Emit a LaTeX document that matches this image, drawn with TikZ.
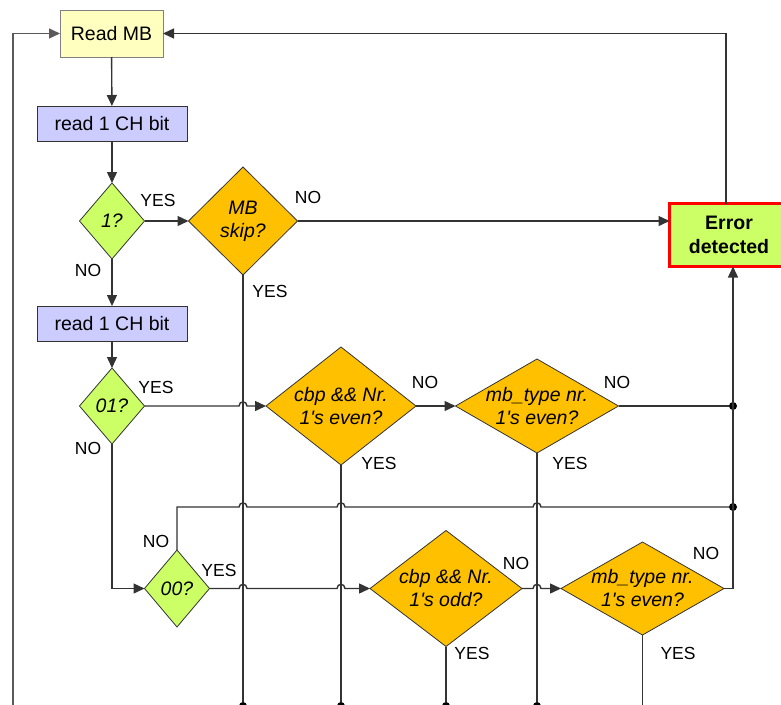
\documentclass[tikz,border=0pt]{standalone}
\usepackage{fontspec}
\setmainfont{Liberation Sans}
\usetikzlibrary{shapes.geometric,arrows.meta}
\definecolor{boxyellow}{HTML}{FFFFC0}
\definecolor{boxblue}{HTML}{CCCCFF}
\definecolor{limefill}{HTML}{CCFF66}
\definecolor{goldfill}{HTML}{FFC000}
\definecolor{wire}{HTML}{333333}
\definecolor{errred}{HTML}{FF0000}

\begin{document}
\begin{tikzpicture}[x=1pt,y=-1pt,
  every node/.style={font=\fontsize{19.5}{23}\selectfont, inner sep=0pt, outer sep=0pt},
  startbox/.style={rectangle, draw=gray, fill=boxyellow, line width=1pt,
    minimum width=103pt, minimum height=47pt},
  readbox/.style={rectangle, draw=wire, fill=boxblue, line width=1pt,
    minimum width=150pt, minimum height=35pt},
  testdia/.style={diamond, draw=wire, fill=limefill, line width=0.8pt},
  checkdia/.style={diamond, draw=wire, fill=goldfill, line width=0.8pt},
  diatext/.style={align=center, font=\fontsize{19.5}{23}\selectfont\itshape},
  errbox/.style={rectangle, draw=errred, fill=limefill, line width=3pt,
    minimum width=119pt, minimum height=63pt, align=center,
    font=\fontsize{19.5}{24}\selectfont\bfseries},
  lbl/.style={font=\fontsize{17.5}{20}\selectfont},
  wireln/.style={draw=wire, line width=1.4pt},
  arr/.style={wireln, -{Triangle[length=11pt,width=10pt]}},
  dot/.style={circle, fill=black, minimum size=8pt},
  hop/.style 2 args={insert path={-- (#1-4,#2) .. controls (#1-4,#2-5.5) and (#1+4,#2-5.5) .. (#1+4,#2)}}
]
\useasboundingbox (0,0) rectangle (781,704);

% process boxes
\node[startbox] (readmb) at (111.5,33.5) {Read MB};
\node[readbox] (read1) at (112,123.5) {read 1 CH bit};
\node[readbox] (read2) at (112,323.5) {read 1 CH bit};
\node[errbox] (err) at (729,235) {Error\\detected};

% decisions
\node[testdia, minimum width=65pt, minimum height=76pt] (d1) at (112,221) {};
\node[diatext] (d1t) at (d1) {1?};
\node[checkdia, minimum width=109pt, minimum height=108pt] (skip) at (243,221) {};
\node[diatext] (skipt) at (skip) {MB\\skip?};
\node[testdia, minimum width=65pt, minimum height=76pt] (d01) at (112,406) {};
\node[diatext] (d01t) at (d01) {01?};
\node[checkdia, minimum width=150pt, minimum height=118pt] (c1) at (341,406) {};
\node[diatext] (c1t) at (c1) {cbp \&\& Nr.\\1\textquotesingle s even?};
\node[checkdia, minimum width=163pt, minimum height=94pt] (m1) at (537,406) {};
\node[diatext] (m1t) at (m1) {mb\_type nr.\\1\textquotesingle s even?};
\node[testdia, minimum width=65pt, minimum height=77pt] (d00) at (177,588.5) {};
\node[diatext] (d00t) at (d00) {00?};
\node[checkdia, minimum width=152pt, minimum height=116pt] (c2) at (446,588.5) {};
\node[diatext] (c2t) at (c2) {cbp \&\& Nr.\\1\textquotesingle s odd?};
\node[checkdia, minimum width=163pt, minimum height=93pt] (m2) at (642.5,588.5) {};
\node[diatext] (m2t) at (m2) {mb\_type nr.\\1\textquotesingle s even?};

% junctions and open ends
\node[dot] (j1) at (733,406) {};
\node[dot] (j2) at (733,507) {};
\node[dot] (e1) at (243,706) {};
\node[dot] (e2) at (341,706) {};
\node[dot] (e3) at (446,706) {};
\node[dot] (e4) at (537,706) {};
\coordinate (e5) at (642.5,712);
\coordinate (lb) at (13,712);
\coordinate (bus) at (733,0);
\coordinate (topline) at (726,0);

% branch labels
\node[lbl] (l1) at (158,200) {YES};
\node[lbl] (l2) at (88,270) {NO};
\node[lbl] (l3) at (308,197) {NO};
\node[lbl] (l4) at (270,291) {YES};
\node[lbl] (l5) at (156,387) {YES};
\node[lbl] (l6) at (88,448) {NO};
\node[lbl] (l7) at (425,382) {NO};
\node[lbl] (l8) at (379,463) {YES};
\node[lbl] (l9) at (617,382) {NO};
\node[lbl] (l10) at (570,463) {YES};
\node[lbl] (l11) at (156,541) {NO};
\node[lbl] (l12) at (219,570) {YES};
\node[lbl] (l13) at (516,563) {NO};
\node[lbl] (l14) at (472,653) {YES};
\node[lbl] (l15) at (706,553) {NO};
\node[lbl] (l16) at (678,653) {YES};

% main chain
\draw[arr] (readmb) -- (read1);
\draw[arr] (read1) -- (d1);
\draw[arr] (d1.east) -- (skip.west);
\draw[arr] (skip.east) -- (skip.east -| err.west);
\draw[arr] (d1.south) -- (read2.north);
\draw[arr] (read2) -- (d01);
\draw[arr] (d01.east) [hop={243}{406}] -- (c1.west);
\draw[arr] (c1.east) -- (m1.west);
\draw[wireln] (m1.east) -- (j1);
\draw[arr] (d01.south) |- (d00.west);
\draw[wireln] (d00.north) -- (177,507) [hop={243}{507}] [hop={341}{507}] [hop={537}{507}] -- (j2);
\draw[arr] (d00.east) [hop={243}{588.5}] [hop={341}{588.5}] -- (c2.west);
\draw[arr] (c2.east) [hop={537}{588.5}] -- (m2.west);
\draw[arr] (m2.east) -- (bus |- m2.east) -- (bus |- err.south);

% return paths to Read MB
\draw[arr] (topline |- err.north) |- (readmb.east);
\draw[arr, draw=gray!70!black] (lb) |- (readmb.west);

% exits downwards
\draw[wireln] (skip.south) -- (e1);
\draw[wireln] (c1.south) -- (e2);
\draw[wireln] (c2.south) -- (e3);
\draw[wireln] (m1.south) -- (e4);
\draw[wireln] (m2.south) -- (e5);
\end{tikzpicture}
\end{document}
